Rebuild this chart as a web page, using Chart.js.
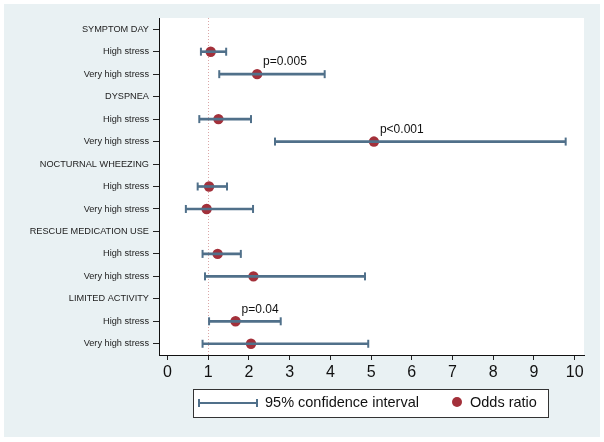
<!DOCTYPE html>
<html>
<head>
<meta charset="utf-8">
<script src="https://cdn.jsdelivr.net/npm/chart.js@4/dist/chart.umd.min.js"></script>
<style>
  html, body { margin: 0; padding: 0; background: #fff; }
  #wrap { width: 604px; height: 442px; }
</style>
</head>
<body>
<div id="wrap"><canvas id="forest" width="604" height="442"></canvas></div>
<script>
// rows, top to bottom
const rowLabels = [
  "SYMPTOM DAY", "High stress", "Very high stress",
  "DYSPNEA", "High stress", "Very high stress",
  "NOCTURNAL WHEEZING", "High stress", "Very high stress",
  "RESCUE MEDICATION USE", "High stress", "Very high stress",
  "LIMITED ACTIVITY", "High stress", "Very high stress"
];
const oddsRatio = [null, 1.06, 2.2, null, 1.25, 5.07, null, 1.02, 0.96, null, 1.23, 2.11, null, 1.67, 2.05];
const ciLow     = [null, 0.82, 1.27, null, 0.78, 2.64, null, 0.74, 0.45, null, 0.86, 0.92, null, 1.02, 0.86];
const ciHigh    = [null, 1.44, 3.86, null, 2.05, 9.78, null, 1.46, 2.1,  null, 1.8,  4.85, null, 2.78, 4.93];
const pLabels   = ["", "", "p=0.005", "", "", "p<0.001", "", "", "", "", "", "", "", "p=0.04", ""];
const xTicks = [0, 1, 2, 3, 4, 5, 6, 7, 8, 9, 10];
const refValue = 1;
const legendLabels = ["95% confidence interval", "Odds ratio"];

const FONT = "'Liberation Sans', Helvetica, Arial, sans-serif";
const CI_COLOR = "#50708a";
const OR_COLOR = "#a3303a";

const forestPlugin = {
  id: "forest",
  beforeDraw(chart) {
    const { ctx, chartArea: a } = chart;
    ctx.save();
    ctx.fillStyle = "#fff";
    ctx.fillRect(0, 0, chart.width, chart.height);
    ctx.fillStyle = "#e9f1f3";
    ctx.fillRect(4, 4, 596, 433);
    ctx.fillStyle = "#fff";
    ctx.fillRect(a.left, a.top, a.right - a.left, a.bottom - a.top);
    ctx.restore();
  },
  beforeDatasetsDraw(chart) {
    const { ctx, chartArea: a, scales } = chart;
    const x = scales.x.getPixelForValue(refValue);
    ctx.save();
    ctx.strokeStyle = "#dba7a7";
    ctx.lineWidth = 1;
    ctx.setLineDash([1, 2]);
    ctx.beginPath();
    ctx.moveTo(Math.round(x) + 0.5, a.top);
    ctx.lineTo(Math.round(x) + 0.5, a.bottom);
    ctx.stroke();
    ctx.restore();
  },
  afterDatasetDraw(chart, args) {
    if (args.index !== 0) return;
    // caps on the confidence intervals
    const { ctx, scales } = chart;
    ctx.save();
    ctx.strokeStyle = CI_COLOR;
    ctx.lineWidth = 2;
    ciLow.forEach((lo, i) => {
      if (lo == null) return;
      const y = scales.y.getPixelForValue(i);
      [lo, ciHigh[i]].forEach(v => {
        const x = scales.x.getPixelForValue(v);
        ctx.beginPath();
        ctx.moveTo(x, y - 4);
        ctx.lineTo(x, y + 4);
        ctx.stroke();
      });
    });
    ctx.restore();
  },
  afterDraw(chart) {
    const { ctx } = chart;
    const meta = chart.getDatasetMeta(1);
    ctx.save();
    ctx.fillStyle = "#111";
    ctx.font = "12px " + FONT;
    ctx.textBaseline = "middle";
    ctx.textAlign = "left";
    pLabels.forEach((t, i) => {
      if (!t) return;
      const p = meta.data[i];
      ctx.fillText(t, p.x + 6, p.y - 12);
    });

    // legend box
    const bx = 193, by = 389, bw = 355, bh = 28, cy = by + bh / 2;
    ctx.fillStyle = "#fff";
    ctx.fillRect(bx, by, bw, bh);
    ctx.strokeStyle = "#333";
    ctx.lineWidth = 1;
    ctx.strokeRect(bx + 0.5, by + 0.5, bw, bh);

    ctx.strokeStyle = CI_COLOR;
    ctx.lineWidth = 2;
    ctx.beginPath();
    ctx.moveTo(199, cy); ctx.lineTo(257, cy);
    ctx.moveTo(199, cy - 4); ctx.lineTo(199, cy + 4);
    ctx.moveTo(257, cy - 4); ctx.lineTo(257, cy + 4);
    ctx.stroke();

    ctx.fillStyle = OR_COLOR;
    ctx.beginPath();
    ctx.arc(457, cy - 1, 5, 0, Math.PI * 2);
    ctx.fill();

    ctx.fillStyle = "#111";
    ctx.font = "14.5px " + FONT;
    ctx.fillText(legendLabels[0], 265, cy);
    ctx.fillText(legendLabels[1], 470, cy);
    ctx.restore();
  }
};

new Chart(document.getElementById("forest"), {
  type: "bar",
  data: {
    labels: rowLabels,
    datasets: [
      {
        label: legendLabels[0],
        data: ciLow.map((lo, i) => (lo == null ? null : [lo, ciHigh[i]])),
        backgroundColor: CI_COLOR,
        barThickness: 2,
        borderWidth: 0
      },
      {
        type: "line",
        label: legendLabels[1],
        indexAxis: "y",
        data: oddsRatio,
        showLine: false,
        pointRadius: 5.2,
        pointBackgroundColor: OR_COLOR,
        pointBorderColor: OR_COLOR,
        pointBorderWidth: 0
      }
    ]
  },
  options: {
    indexAxis: "y",
    responsive: false,
    animation: false,
    layout: { padding: { top: 18, right: 20, left: 0, bottom: 0 } },
    plugins: { legend: { display: false }, tooltip: { enabled: false } },
    scales: {
      x: {
        type: "linear",
        min: -0.21,
        max: 10.23,
        afterBuildTicks: s => { s.ticks = xTicks.map(v => ({ value: v })); },
        afterFit: s => { s.height = 87; },
        grid: { drawOnChartArea: false, drawTicks: true, tickLength: 5, color: "#222" },
        border: { display: true, color: "#111", width: 1 },
        ticks: { font: { family: FONT, size: 16 }, color: "#111", padding: 3, maxRotation: 0 }
      },
      y: {
        type: "category",
        offset: true,
        afterFit: s => { s.width = 159; },
        grid: { offset: false, drawOnChartArea: false, drawTicks: true, tickLength: 6, color: "#222" },
        border: { display: true, color: "#111", width: 1 },
        ticks: { font: { family: FONT, size: 9.2 }, color: "#222", padding: 4, autoSkip: false }
      }
    }
  },
  plugins: [forestPlugin]
});
</script>
</body>
</html>
